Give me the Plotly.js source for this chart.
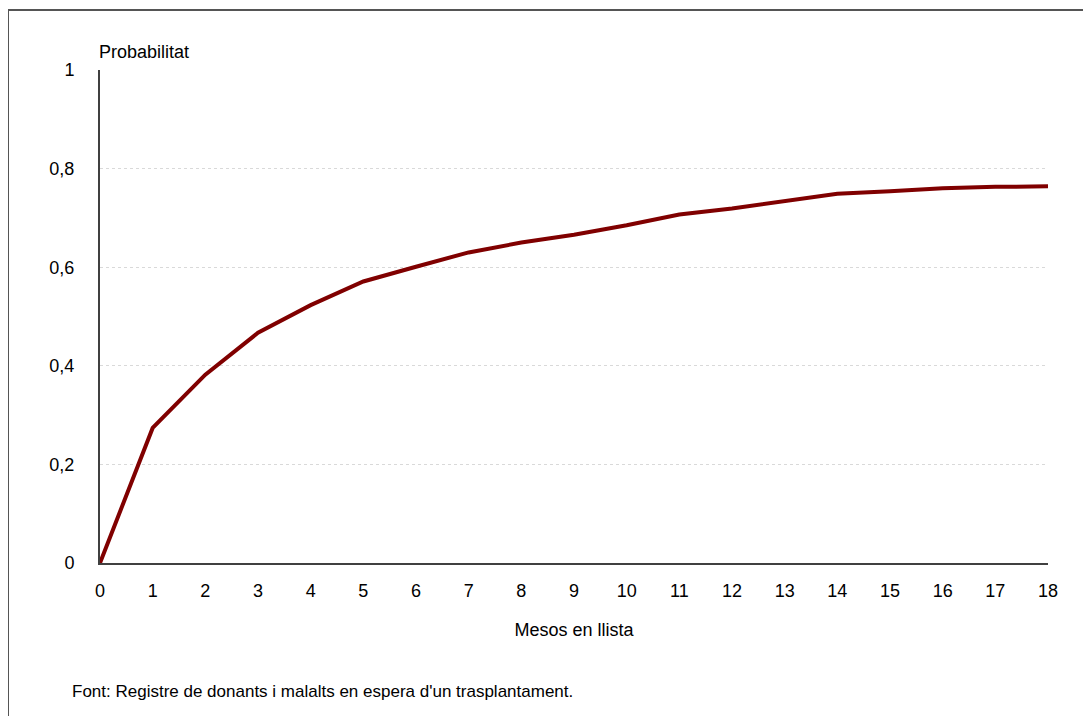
<!DOCTYPE html>
<html>
<head>
<meta charset="utf-8">
<script src="https://cdn.plot.ly/plotly-3.0.1.min.js"></script>
<style>
  html, body { margin: 0; padding: 0; background: #fff; }
  #wrap { position: relative; width: 1083px; height: 716px; }
  #frame { position: absolute; left: 8px; top: 9px; width: 1075px; height: 707px;
           border-top: 2px solid #555; border-left: 1px solid #555; box-sizing: border-box; pointer-events: none; }
  #chart { position: absolute; left: 0; top: 0; width: 1083px; height: 716px; }
</style>
</head>
<body>
<div id="wrap">
  <div id="chart"></div>
  <div id="frame"></div>
</div>
<script>
const months = [0, 1, 2, 3, 4, 5, 6, 7, 8, 9, 10, 11, 12, 13, 14, 15, 16, 17, 18];
const probability = [0, 0.274, 0.382, 0.467, 0.523, 0.571, 0.601, 0.630, 0.650, 0.666, 0.685, 0.707, 0.719, 0.734, 0.749, 0.754, 0.760, 0.763, 0.764];
const yTickVals = [0, 0.2, 0.4, 0.6, 0.8, 1];
const yTickText = ['0', '0,2', '0,4', '0,6', '0,8', '1'];
const yLabel = 'Probabilitat';
const xLabel = 'Mesos en llista';
const sourceNote = "Font: Registre de donants i malalts en espera d'un trasplantament.";

const FONT = '"Liberation Sans Narrow", "Arial Narrow", "Liberation Sans", Arial, sans-serif';
const FS = 18;

const trace = {
  x: months,
  y: probability,
  type: 'scatter',
  mode: 'lines',
  line: { color: '#800000', width: 4 },
  hoverinfo: 'x+y'
};

const layout = {
  width: 1083,
  height: 716,
  margin: { l: 100, r: 35, t: 70, b: 153 },
  paper_bgcolor: '#ffffff',
  plot_bgcolor: '#ffffff',
  showlegend: false,
  font: { family: FONT, size: FS, color: '#000' },
  xaxis: {
    range: [0, 18],
    tickvals: months,
    ticktext: months.map(String),
    showgrid: false,
    zeroline: false,
    showline: true,
    linecolor: '#404040',
    linewidth: 2,
    ticks: '',
    ticklabelstandoff: 10,
    tickfont: { family: FONT, size: FS, color: '#000' },
    title: { text: xLabel, font: { family: FONT, size: FS, color: '#000' }, standoff: 24 }
  },
  yaxis: {
    range: [0, 1],
    tickvals: yTickVals,
    ticktext: yTickText,
    showgrid: true,
    gridcolor: '#d9d9d9',
    gridwidth: 1,
    griddash: 'dot',
    zeroline: false,
    showline: true,
    linecolor: '#404040',
    linewidth: 2,
    ticks: '',
    ticklabelstandoff: 20,
    tickfont: { family: FONT, size: FS, color: '#000' }
  },
  annotations: [
    { text: yLabel, xref: 'paper', yref: 'paper', x: 0, y: 1, xanchor: 'left', yanchor: 'bottom',
      xshift: -3, yshift: 6, showarrow: false, font: { family: FONT, size: FS, color: '#000' } },
    { text: sourceNote, xref: 'paper', yref: 'paper', x: -0.0316, y: -0.261, xanchor: 'left', yanchor: 'middle',
      showarrow: false, font: { family: FONT, size: 17, color: '#000' } }
  ]
};

Plotly.newPlot('chart', [trace], layout, { displayModeBar: false, staticPlot: true });
</script>
</body>
</html>
